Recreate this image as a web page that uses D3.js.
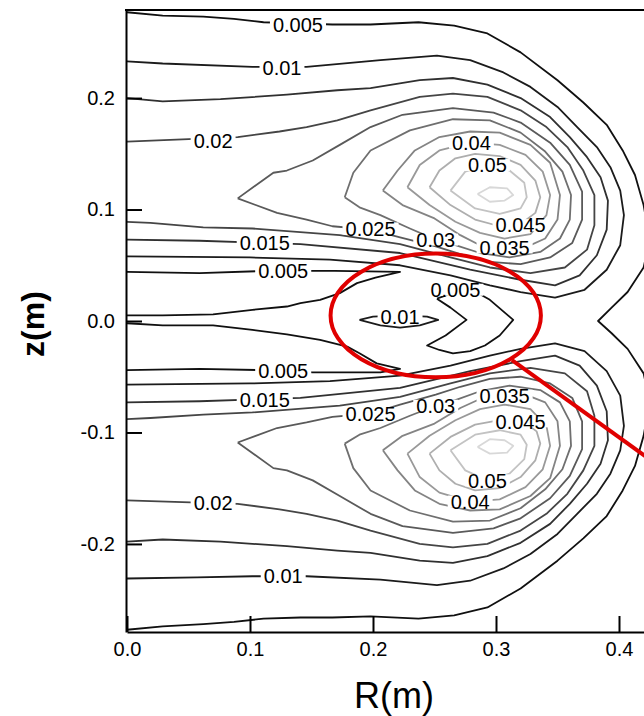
<!DOCTYPE html>
<html>
<head>
<meta charset="utf-8">
<script src="https://cdn.jsdelivr.net/npm/d3@7/dist/d3.min.js"></script>
<style>
  body { margin: 0; background: #fff; }
  svg text { font-family: Arial, "Liberation Sans", sans-serif; }
</style>
</head>
<body>
<div id="contour-plot"></div>
<script>
// ---- data, [R (m), z (m)] ----
const rTicks = [0.0, 0.1, 0.2, 0.3, 0.4];
const zTicks = [-0.2, -0.1, 0.0, 0.1, 0.2];

// outer 0.005 line, runs from the top round to the bottom
const outer005 = [[0,0.277],[0.029,0.274],[0.062,0.273],[0.087,0.271],[0.111,0.268],[0.141,0.267],[0.167,0.266],[0.198,0.266],[0.237,0.268],[0.266,0.265],[0.293,0.258],[0.320,0.241],[0.350,0.216],[0.371,0.196],[0.390,0.176],[0.403,0.153],[0.413,0.131],[0.420,0.104],[0.425,0.073],[0.420,0.048],[0.407,0.026],[0.394,0.012],[0.383,0.000],[0.394,-0.011],[0.407,-0.025],[0.420,-0.047],[0.425,-0.072],[0.420,-0.103],[0.413,-0.130],[0.403,-0.152],[0.390,-0.175],[0.371,-0.195],[0.350,-0.215],[0.320,-0.240],[0.293,-0.257],[0.266,-0.264],[0.237,-0.267],[0.198,-0.265],[0.167,-0.266],[0.141,-0.266],[0.111,-0.267],[0.087,-0.270],[0.062,-0.272],[0.029,-0.274],[0,-0.277]];

// upper lobe
const up010 = [[0,0.233],[0.029,0.231],[0.102,0.228],[0.146,0.228],[0.206,0.234],[0.252,0.238],[0.279,0.234],[0.306,0.223],[0.328,0.210],[0.350,0.192],[0.366,0.174],[0.382,0.156],[0.393,0.138],[0.401,0.117],[0.404,0.095],[0.401,0.068],[0.390,0.046],[0.372,0.028],[0.348,0.021],[0.320,0.026],[0.295,0.032],[0.263,0.041],[0.222,0.050],[0.165,0.055],[0.100,0.057],[0,0.058]];
const up015 = [[0,0.200],[0.029,0.197],[0.076,0.199],[0.130,0.203],[0.171,0.207],[0.198,0.209],[0.238,0.216],[0.265,0.218],[0.293,0.212],[0.320,0.200],[0.344,0.183],[0.360,0.165],[0.374,0.147],[0.385,0.129],[0.391,0.108],[0.390,0.082],[0.382,0.059],[0.368,0.041],[0.348,0.032],[0.320,0.037],[0.279,0.046],[0.222,0.061],[0.141,0.069],[0.059,0.072],[0,0.073]];
const up020 = [[0,0.161],[0.090,0.165],[0.124,0.170],[0.146,0.174],[0.171,0.180],[0.198,0.189],[0.238,0.201],[0.265,0.204],[0.293,0.201],[0.320,0.189],[0.341,0.174],[0.358,0.156],[0.371,0.135],[0.380,0.113],[0.380,0.086],[0.374,0.064],[0.356,0.048],[0.328,0.043],[0.295,0.048],[0.263,0.057],[0.222,0.069],[0.173,0.077],[0.102,0.083],[0.062,0.084],[0.019,0.088],[0,0.089]];
const up025 = [[0.090,0.110],[0.119,0.133],[0.130,0.135],[0.151,0.144],[0.173,0.158],[0.198,0.174],[0.224,0.185],[0.265,0.191],[0.298,0.187],[0.320,0.178],[0.344,0.160],[0.360,0.140],[0.370,0.116],[0.370,0.091],[0.362,0.070],[0.344,0.057],[0.320,0.051],[0.295,0.053],[0.271,0.060],[0.251,0.067],[0.222,0.075],[0.198,0.082],[0.167,0.085],[0.146,0.091],[0.122,0.097],[0.090,0.110]];
const up030 = [[0.177,0.111],[0.184,0.133],[0.198,0.153],[0.230,0.171],[0.265,0.181],[0.295,0.180],[0.320,0.169],[0.340,0.152],[0.354,0.134],[0.361,0.113],[0.360,0.091],[0.352,0.074],[0.336,0.062],[0.311,0.057],[0.287,0.061],[0.267,0.068],[0.251,0.073],[0.230,0.083],[0.206,0.095],[0.189,0.102],[0.177,0.111]];
const up035 = [[0.208,0.117],[0.220,0.135],[0.234,0.153],[0.254,0.165],[0.279,0.170],[0.303,0.169],[0.328,0.158],[0.344,0.142],[0.352,0.113],[0.350,0.091],[0.340,0.074],[0.324,0.066],[0.307,0.065],[0.287,0.068],[0.271,0.077],[0.250,0.092],[0.224,0.104],[0.208,0.117]];
const up040 = [[0.228,0.120],[0.238,0.140],[0.254,0.153],[0.279,0.160],[0.303,0.158],[0.324,0.149],[0.338,0.134],[0.344,0.113],[0.341,0.095],[0.328,0.078],[0.307,0.074],[0.287,0.079],[0.267,0.089],[0.246,0.104],[0.228,0.120]];
const up045 = [[0.246,0.120],[0.254,0.135],[0.267,0.146],[0.283,0.150],[0.303,0.148],[0.320,0.140],[0.332,0.126],[0.336,0.111],[0.332,0.097],[0.320,0.087],[0.303,0.085],[0.283,0.091],[0.263,0.104],[0.246,0.120]];
const up050 = [[0.263,0.117],[0.275,0.134],[0.293,0.140],[0.311,0.135],[0.323,0.124],[0.325,0.111],[0.320,0.101],[0.303,0.096],[0.283,0.101],[0.263,0.117]];
const up055 = [[0.285,0.114],[0.295,0.120],[0.309,0.119],[0.314,0.113],[0.307,0.108],[0.295,0.107],[0.285,0.114]];

// lower lobe
const lo010 = [[0,-0.231],[0.057,-0.230],[0.102,-0.229],[0.146,-0.229],[0.206,-0.232],[0.252,-0.237],[0.279,-0.233],[0.306,-0.222],[0.328,-0.209],[0.350,-0.191],[0.366,-0.173],[0.382,-0.155],[0.393,-0.137],[0.401,-0.116],[0.404,-0.094],[0.401,-0.067],[0.390,-0.045],[0.372,-0.027],[0.348,-0.020],[0.320,-0.025],[0.295,-0.031],[0.263,-0.040],[0.222,-0.049],[0.165,-0.054],[0.100,-0.056],[0,-0.057]];
const lo015 = [[0,-0.198],[0.029,-0.196],[0.076,-0.198],[0.130,-0.202],[0.171,-0.206],[0.198,-0.208],[0.238,-0.215],[0.265,-0.217],[0.293,-0.211],[0.320,-0.199],[0.344,-0.182],[0.360,-0.164],[0.374,-0.146],[0.385,-0.128],[0.391,-0.107],[0.390,-0.081],[0.382,-0.058],[0.368,-0.040],[0.348,-0.031],[0.320,-0.036],[0.279,-0.045],[0.222,-0.060],[0.141,-0.069],[0.059,-0.072],[0,-0.073]];
const lo020 = [[0,-0.161],[0.090,-0.164],[0.124,-0.169],[0.146,-0.173],[0.171,-0.179],[0.198,-0.188],[0.238,-0.200],[0.265,-0.203],[0.293,-0.200],[0.320,-0.188],[0.341,-0.173],[0.358,-0.155],[0.371,-0.134],[0.380,-0.112],[0.380,-0.085],[0.374,-0.063],[0.356,-0.047],[0.328,-0.042],[0.295,-0.047],[0.263,-0.056],[0.222,-0.068],[0.173,-0.076],[0.102,-0.082],[0.062,-0.084],[0.019,-0.087],[0,-0.088]];
const lo025 = [[0.090,-0.109],[0.119,-0.132],[0.130,-0.134],[0.151,-0.143],[0.173,-0.157],[0.198,-0.173],[0.224,-0.184],[0.265,-0.190],[0.298,-0.186],[0.320,-0.177],[0.344,-0.159],[0.360,-0.139],[0.370,-0.115],[0.370,-0.090],[0.362,-0.069],[0.344,-0.056],[0.320,-0.050],[0.295,-0.052],[0.271,-0.059],[0.251,-0.066],[0.222,-0.075],[0.198,-0.083],[0.167,-0.086],[0.146,-0.091],[0.122,-0.096],[0.090,-0.109]];
const lo030 = [[0.177,-0.110],[0.184,-0.132],[0.198,-0.152],[0.230,-0.170],[0.265,-0.180],[0.295,-0.179],[0.320,-0.168],[0.340,-0.151],[0.354,-0.133],[0.361,-0.112],[0.360,-0.090],[0.352,-0.073],[0.336,-0.062],[0.311,-0.058],[0.287,-0.063],[0.267,-0.071],[0.251,-0.076],[0.230,-0.085],[0.206,-0.096],[0.189,-0.102],[0.177,-0.110]];
const lo035 = [[0.208,-0.116],[0.220,-0.134],[0.234,-0.152],[0.254,-0.164],[0.279,-0.170],[0.303,-0.169],[0.328,-0.157],[0.344,-0.141],[0.352,-0.112],[0.350,-0.090],[0.340,-0.073],[0.324,-0.066],[0.307,-0.067],[0.287,-0.070],[0.271,-0.078],[0.250,-0.092],[0.224,-0.103],[0.208,-0.116]];
const lo040 = [[0.228,-0.119],[0.238,-0.140],[0.254,-0.154],[0.279,-0.162],[0.303,-0.160],[0.324,-0.149],[0.338,-0.133],[0.344,-0.112],[0.341,-0.094],[0.328,-0.079],[0.307,-0.075],[0.287,-0.079],[0.267,-0.089],[0.246,-0.103],[0.228,-0.119]];
const lo045 = [[0.246,-0.119],[0.254,-0.134],[0.267,-0.146],[0.283,-0.152],[0.303,-0.150],[0.320,-0.140],[0.332,-0.125],[0.336,-0.110],[0.333,-0.099],[0.322,-0.090],[0.303,-0.089],[0.283,-0.093],[0.263,-0.104],[0.246,-0.119]];
const lo050 = [[0.263,-0.116],[0.275,-0.134],[0.293,-0.143],[0.311,-0.137],[0.323,-0.124],[0.325,-0.111],[0.320,-0.102],[0.303,-0.098],[0.283,-0.102],[0.263,-0.116]];
const lo055 = [[0.285,-0.113],[0.295,-0.119],[0.309,-0.118],[0.314,-0.112],[0.307,-0.107],[0.295,-0.106],[0.285,-0.113]];

// low-value region round z = 0
const tongueUp005 = [[0,0.044],[0.059,0.043],[0.116,0.045],[0.169,0.045],[0.222,0.044],[0.202,0.039],[0.187,0.034],[0.173,0.025],[0.157,0.019],[0.141,0.016],[0.130,0.013],[0.102,0.010],[0.070,0.006],[0.029,0.005],[0,0.005]];
const tongueLo005 = [[0,-0.044],[0.059,-0.043],[0.106,-0.044],[0.151,-0.046],[0.206,-0.046],[0.222,-0.043],[0.203,-0.038],[0.189,-0.029],[0.179,-0.023],[0.157,-0.017],[0.141,-0.014],[0.130,-0.012],[0.102,-0.008],[0.070,-0.004],[0.029,-0.004],[0,-0.002]];
const lens010 = [[0.189,0.001],[0.200,0.004],[0.222,0.005],[0.244,0.004],[0.253,0.001],[0.238,-0.004],[0.222,-0.006],[0.206,-0.004],[0.189,0.001]];
const pocket005 = [[0.252,0.020],[0.267,0.026],[0.287,0.024],[0.295,0.019],[0.314,0.001],[0.303,-0.013],[0.291,-0.022],[0.279,-0.027],[0.265,-0.029],[0.254,-0.026],[0.244,-0.022],[0.259,-0.013],[0.276,0.001],[0.263,0.012],[0.252,0.020]];

// contour labels
const labelLevels = [0.005, 0.01, 0.02, 0.04, 0.05, 0.045, 0.025, 0.03, 0.035, 0.015, 0.005, 0.005, 0.01,
                     0.005, 0.015, 0.025, 0.03, 0.035, 0.045, 0.05, 0.04, 0.02, 0.01];
const labelR = [0.139, 0.126, 0.070, 0.280, 0.293, 0.320, 0.198, 0.251, 0.307, 0.112, 0.127, 0.267, 0.222,
                0.127, 0.112, 0.198, 0.251, 0.307, 0.320, 0.293, 0.279, 0.070, 0.127];
const labelZ = [0.266, 0.227, 0.162, 0.160, 0.140, 0.086, 0.083, 0.073, 0.066, 0.070, 0.045, 0.028, 0.004,
                -0.045, -0.071, -0.083, -0.076, -0.067, -0.090, -0.143, -0.162, -0.163, -0.229];

// highlighted region
const markCenter = [0.251, 0.005];
const markRadius = [0.0855, 0.0555];
const markArrow = [[0.313, -0.035], [0.47, -0.160]];

// ---- drawing ----
const width = 644;
const height = 716;

const contours = [
    {level: 0.005, pts: outer005}, {level: 0.005, pts: tongueUp005}, {level: 0.005, pts: tongueLo005},
    {level: 0.005, pts: pocket005}, {level: 0.01, pts: lens010},
    {level: 0.01, pts: up010}, {level: 0.015, pts: up015}, {level: 0.02, pts: up020},
    {level: 0.025, pts: up025}, {level: 0.03, pts: up030}, {level: 0.035, pts: up035},
    {level: 0.04, pts: up040}, {level: 0.045, pts: up045}, {level: 0.05, pts: up050}, {level: 0.055, pts: up055},
    {level: 0.01, pts: lo010}, {level: 0.015, pts: lo015}, {level: 0.02, pts: lo020},
    {level: 0.025, pts: lo025}, {level: 0.03, pts: lo030}, {level: 0.035, pts: lo035},
    {level: 0.04, pts: lo040}, {level: 0.045, pts: lo045}, {level: 0.05, pts: lo050}, {level: 0.055, pts: lo055}
];

let svg = d3.select("#contour-plot")
    .append("svg")
    .attr("width", width)
    .attr("height", height);

let xScale = d3.scaleLinear()
    .domain([0, 0.45])
    .range([127, 127 + 0.45 * 1230]);

let yScale = d3.scaleLinear()
    .domain([-0.279, 0.279])
    .range([632, 10]);

let grey = d3.scaleLinear()
    .domain([0.0075, 0.055])
    .range(["#101010", "#d8d8d8"])
    .clamp(true);

svg.append("defs").append("clipPath")
    .attr("id", "plot-clip")
    .append("rect")
    .attr("x", 126)
    .attr("y", 10)
    .attr("width", width - 126)
    .attr("height", 622);

let plot = svg.append("g").attr("clip-path", "url(#plot-clip)");

let line = d3.line()
    .x(d => xScale(d[0]))
    .y(d => yScale(d[1]));

plot.selectAll(".contour")
    .data(contours)
    .enter()
    .append("path")
    .attr("class", "contour")
    .attr("fill", "none")
    .attr("stroke", d => grey(d.level))
    .attr("stroke-width", 1.8)
    .attr("stroke-linejoin", "round")
    .attr("d", d => line(d.pts));

let labels = plot.selectAll(".clabel")
    .data(labelLevels.map((l, i) => ({l: l, r: labelR[i], z: labelZ[i]})))
    .enter()
    .append("g")
    .attr("class", "clabel")
    .attr("transform", d => `translate(${xScale(d.r)},${yScale(d.z)})`);

labels.append("rect").attr("fill", "white");
labels.append("text")
    .attr("text-anchor", "middle")
    .attr("dy", "0.36em")
    .attr("fill", "black")
    .style("font-size", "20px")
    .text(d => String(d.l));

labels.each(function() {
    const g = d3.select(this);
    const w = g.select("text").node().getComputedTextLength();
    g.select("rect")
        .attr("x", -w / 2 - 3)
        .attr("y", -6)
        .attr("width", w + 6)
        .attr("height", 12);
});

// axes, ticks point inwards
let xAxis = svg.append("g")
    .attr("transform", "translate(0,632)")
    .call(d3.axisBottom(xScale)
        .tickValues(rTicks)
        .tickFormat(d => d.toFixed(1))
        .tickSizeInner(-16)
        .tickSizeOuter(0)
        .tickPadding(10));

let yAxis = svg.append("g")
    .attr("transform", "translate(126,0)")
    .call(d3.axisLeft(yScale)
        .tickValues(zTicks)
        .tickFormat(d => d.toFixed(1))
        .tickSizeInner(-16)
        .tickSizeOuter(0)
        .tickPadding(11));

[xAxis, yAxis].forEach(a => {
    a.attr("font-size", 20);
    a.selectAll("path, line").attr("stroke", "black").attr("stroke-width", 2);
    a.selectAll("text").style("font-size", "20px").attr("fill", "black");
});

svg.append("line")
    .attr("x1", 125).attr("x2", width)
    .attr("y1", 10).attr("y2", 10)
    .attr("stroke", "black")
    .attr("stroke-width", 2);

svg.append("text")
    .attr("x", 394)
    .attr("y", 708)
    .attr("text-anchor", "middle")
    .style("font-size", "36px")
    .text("R(m)");

svg.append("text")
    .attr("transform", "translate(44,324) rotate(-90)")
    .attr("text-anchor", "middle")
    .style("font-size", "32px")
    .style("font-weight", "bold")
    .text("z(m)");

// red mark
svg.append("ellipse")
    .attr("cx", xScale(markCenter[0]))
    .attr("cy", yScale(markCenter[1]))
    .attr("rx", xScale(markCenter[0] + markRadius[0]) - xScale(markCenter[0]))
    .attr("ry", yScale(markCenter[1] - markRadius[1]) - yScale(markCenter[1]))
    .attr("fill", "none")
    .attr("stroke", "#e00000")
    .attr("stroke-width", 4);

svg.append("line")
    .attr("x1", xScale(markArrow[0][0])).attr("y1", yScale(markArrow[0][1]))
    .attr("x2", xScale(markArrow[1][0])).attr("y2", yScale(markArrow[1][1]))
    .attr("stroke", "#e00000")
    .attr("stroke-width", 4);
</script>
</body>
</html>
